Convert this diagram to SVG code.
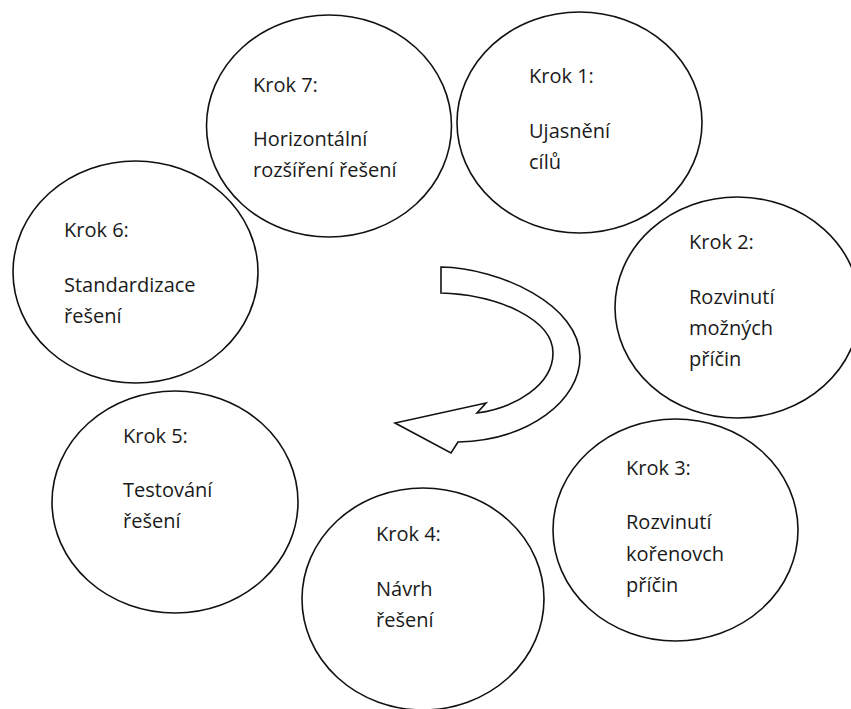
<svg xmlns="http://www.w3.org/2000/svg" width="851" height="709" viewBox="0 0 851 709">
  <style>
    .node ellipse { fill: #ffffff; stroke: #111111; stroke-width: 1.6; }
    .node text { font-family: "Open Sans", "Noto Sans", "DejaVu Sans", sans-serif; font-size: 20px; fill: #1a1a1a; }
    .arrow { fill: #ffffff; stroke: #111111; stroke-width: 1.6; stroke-linejoin: miter; }
  </style>
  <rect width="851" height="709" fill="#ffffff"/>

  <g id="connectors">
    <path class="arrow" d="M441,267 C500,268 580,305 580,357 C580,400 530,440 458,442 L451,453 L395,423 L486,403 L477,413 C515,408 553,385 553,353 C553,320 500,295 441,293 Z"/>
  </g>

  <g id="krok7" class="node">
    <ellipse cx="329" cy="126" rx="122.5" ry="111"/>
    <text x="253" y="92">Krok 7:</text>
    <text x="253" y="146">Horizontální</text>
    <text x="253" y="177">rozšíření řešení</text>
  </g>

  <g id="krok1" class="node">
    <ellipse cx="579.5" cy="122.5" rx="122.5" ry="110.5"/>
    <text x="529" y="83">Krok 1:</text>
    <text x="529" y="138">Ujasnění</text>
    <text x="529" y="169">cílů</text>
  </g>

  <g id="krok6" class="node">
    <ellipse cx="135.5" cy="272" rx="122.5" ry="111"/>
    <text x="64" y="237">Krok 6:</text>
    <text x="64" y="292">Standardizace</text>
    <text x="64" y="323">řešení</text>
  </g>

  <g id="krok2" class="node">
    <ellipse cx="737.5" cy="307.5" rx="122.5" ry="110.5"/>
    <text x="689" y="249">Krok 2:</text>
    <text x="689" y="304">Rozvinutí</text>
    <text x="689" y="335">možných</text>
    <text x="689" y="366">příčin</text>
  </g>

  <g id="krok5" class="node">
    <ellipse cx="175" cy="502" rx="123" ry="111"/>
    <text x="123" y="443">Krok 5:</text>
    <text x="123" y="497">Testování</text>
    <text x="123" y="528">řešení</text>
  </g>

  <g id="krok3" class="node">
    <ellipse cx="675.5" cy="530" rx="122.5" ry="111"/>
    <text x="626" y="475">Krok 3:</text>
    <text x="626" y="529">Rozvinutí</text>
    <text x="626" y="561">kořenovch</text>
    <text x="626" y="592">příčin</text>
  </g>

  <g id="krok4" class="node">
    <ellipse cx="423" cy="599" rx="121" ry="111"/>
    <text x="376" y="541">Krok 4:</text>
    <text x="376" y="596">Návrh</text>
    <text x="376" y="627">řešení</text>
  </g>
</svg>
